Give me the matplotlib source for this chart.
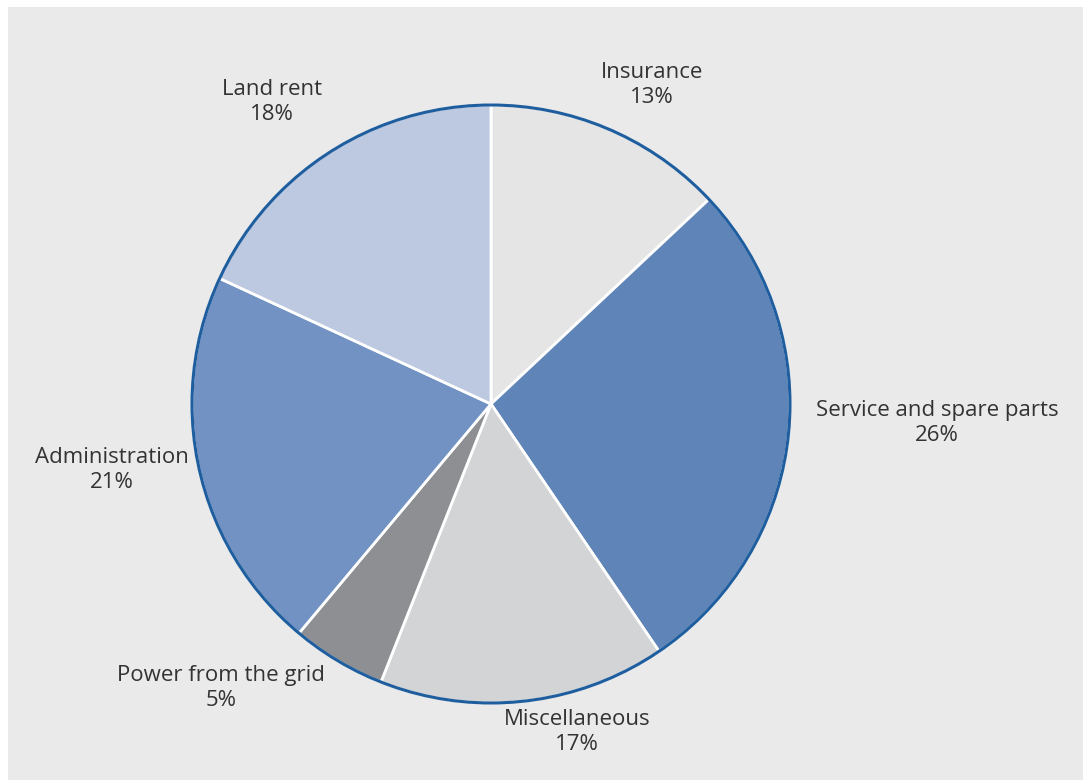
import matplotlib.pyplot as plt
from matplotlib.patches import Circle, Rectangle

# data
categories = ['Insurance', 'Service and spare parts', 'Miscellaneous',
              'Power from the grid', 'Administration', 'Land rent']
# wedge sizes as drawn in the picture
shares = [13, 27.5, 15.5, 5.1, 20.8, 18.1]
# percentages as printed on the labels
pct_labels = ['13%', '26%', '17%', '5%', '21%', '18%']
colors = ['#e5e5e6', '#5f84b7', '#d3d4d6', '#8e8f93', '#7192c2', '#bdc8e1']

# label anchor points in pixels (x, y from top)
label_pos = [(652, 85), (937, 423), (577, 732), (221, 688), (112, 470), (272, 102)]

W, H = 1083, 780
fig = plt.figure(figsize=(W / 100, H / 100), dpi=100, facecolor='white')
fig.patches.append(Rectangle((8 / W, 0), 1 - 8 / W, 1 - 7 / H, transform=fig.transFigure,
                             facecolor='#eaeaea', edgecolor='none', zorder=-10))
ax = fig.add_axes([0, 0, 1, 1])
ax.set_zorder(1)
ax.patch.set_alpha(0)

cx, cy, r = 491, H - 404, 299
ax.pie(shares, colors=colors, startangle=90, counterclock=False,
       center=(cx, cy), radius=r, frame=True,
       wedgeprops=dict(edgecolor='white', linewidth=2))
ax.add_patch(Circle((cx, cy), r, fill=False, edgecolor='#1f5e9e', linewidth=2.2, zorder=5))

for name, pct, (lx, ly) in zip(categories, pct_labels, label_pos):
    ax.text(lx, H - ly, '{}\n{}'.format(name, pct), ha='center', va='center',
            multialignment='center', fontsize=16, color='#333333',
            family='Open Sans', linespacing=1.2)

ax.set_xlim(0, W)
ax.set_ylim(0, H)
ax.set_aspect('equal')
ax.axis('off')

fig.savefig('out.png', dpi=100, facecolor='white')
